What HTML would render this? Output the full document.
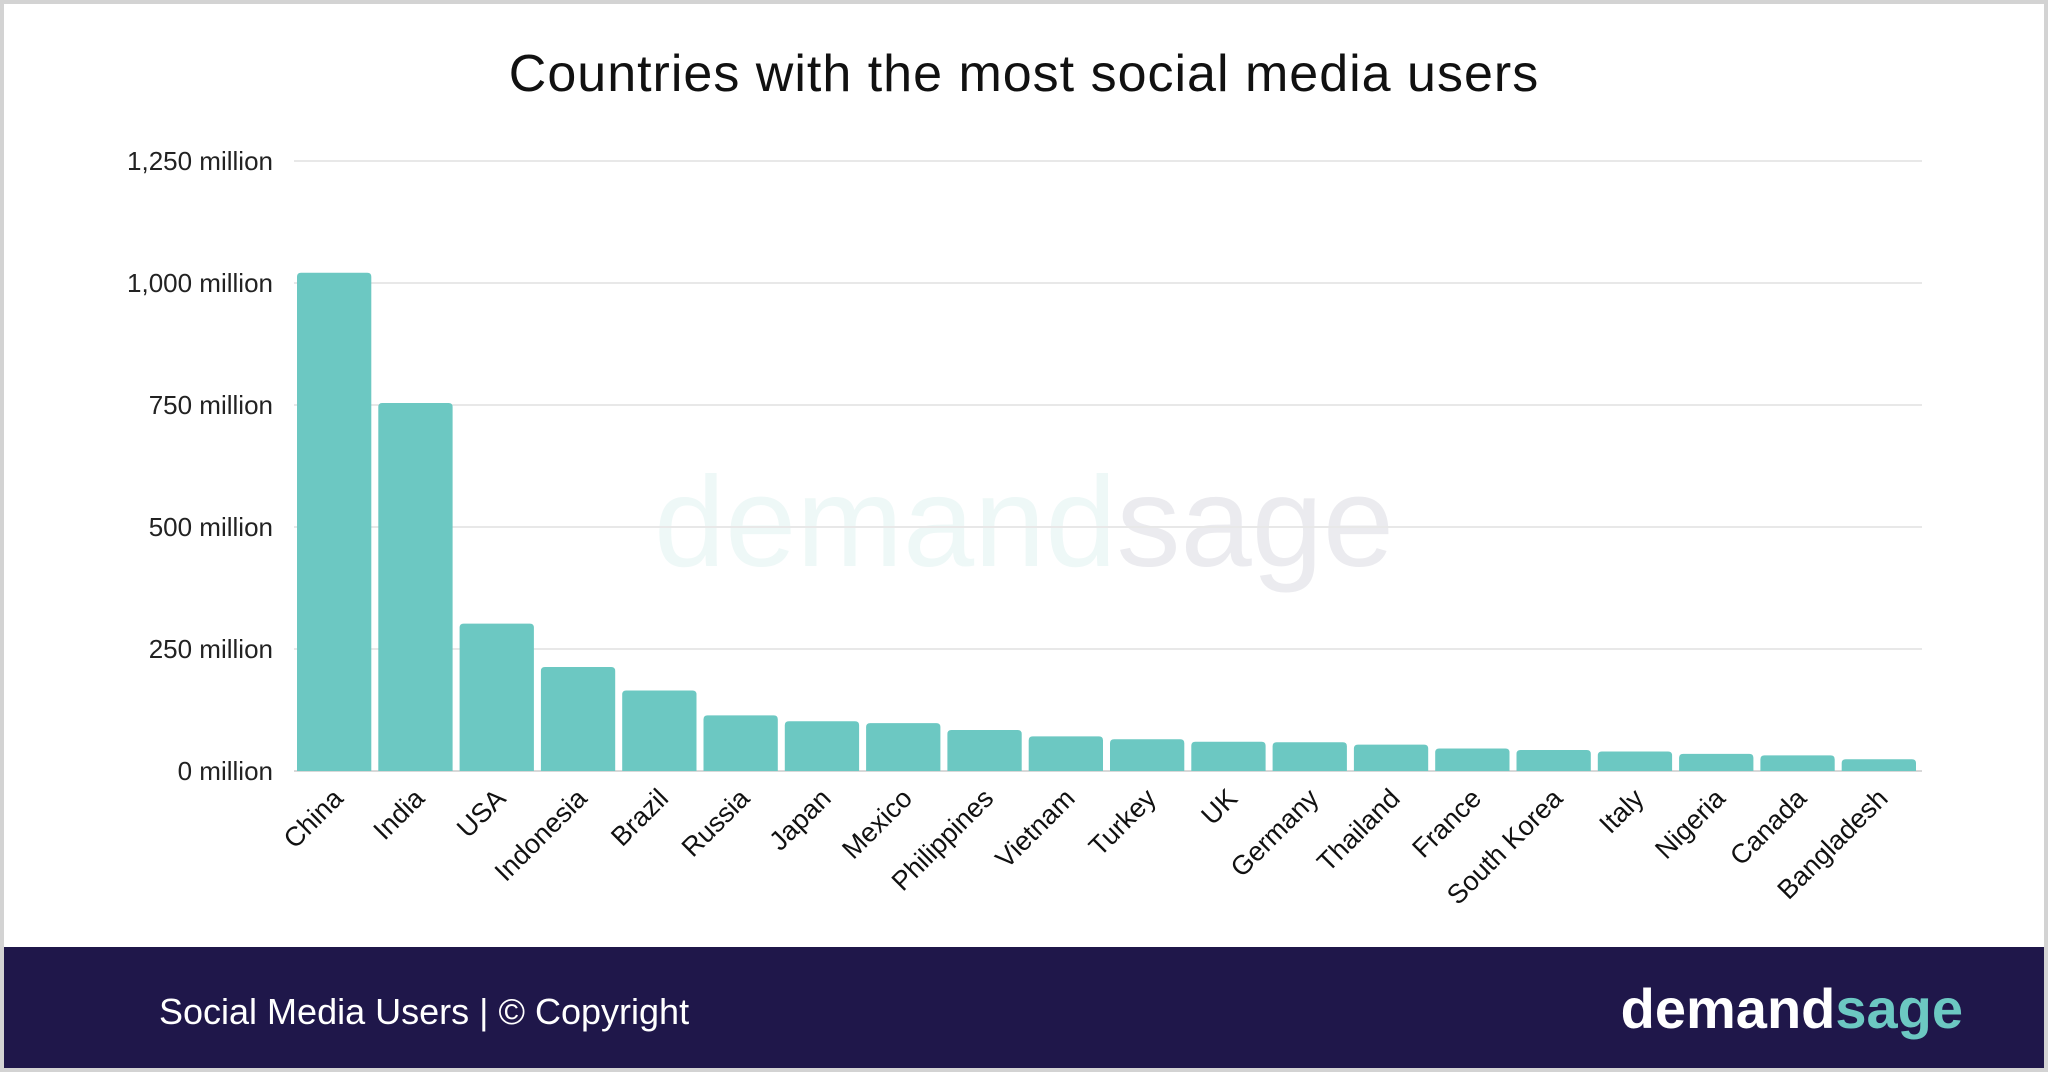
<!DOCTYPE html>
<html><head><meta charset="utf-8"><style>
html,body{margin:0;padding:0;background:#fff}
body{width:2048px;height:1072px;overflow:hidden;font-family:"Liberation Sans",sans-serif}
</style></head><body>
<svg width="2048" height="1072" viewBox="0 0 2048 1072">
<rect x="0" y="0" width="2048" height="1072" fill="#d3d3d3"/>
<rect x="4" y="4" width="2040" height="943" fill="#ffffff"/>
<rect x="4" y="947" width="2040" height="121" fill="#1f174a"/>
<text x="1024" y="91" text-anchor="middle" font-size="52" fill="#111" letter-spacing="1">Countries with the most social media users</text>
<text x="1024" y="566" text-anchor="middle" font-size="128"><tspan fill="#eef8f7">demand</tspan><tspan fill="#ebebef">sage</tspan></text>
<g id="grid"></g>
<g id="bars"></g>
<g id="xlabels"></g>
<text x="159" y="1024" font-size="36" fill="#ffffff">Social Media Users | © Copyright</text>
<text x="1963" y="1028" text-anchor="end" font-size="56" font-weight="600"><tspan fill="#ffffff">demand</tspan><tspan fill="#6cc8c2">sage</tspan></text>
</svg>
<script>
const categories=["China","India","USA","Indonesia","Brazil","Russia","Japan","Mexico","Philippines","Vietnam","Turkey","UK","Germany","Thailand","France","South Korea","Italy","Nigeria","Canada","Bangladesh"];
const values=[1021,754,302,213,165,114,102,98,84,71,65,60,59,54,46,43,40,35,32,24];
const ticks=[0,250,500,750,1000,1250];
const tickLabels=["0 million","250 million","500 million","750 million","1,000 million","1,250 million"];
const NS="http://www.w3.org/2000/svg";
const X0=296,X1=1922,Y0=771,Y1=161,YMAX=1250;
const band=(X1-X0)/categories.length;
function y(v){return Y0-(v/YMAX)*(Y0-Y1);}
function x(i){return X0+i*band;}
const grid=document.getElementById('grid');
ticks.forEach((t,i)=>{
  const l=document.createElementNS(NS,'line');
  l.setAttribute('x1',X0-2);l.setAttribute('x2',X1);l.setAttribute('y1',y(t));l.setAttribute('y2',y(t));
  l.setAttribute('stroke',t===0?'#d8d8d8':'#e8e8e8');l.setAttribute('stroke-width','2');
  
  
  grid.appendChild(l);
  const tx=document.createElementNS(NS,'text');
  tx.setAttribute('x',273);tx.setAttribute('y',y(t)+9);tx.setAttribute('text-anchor','end');
  tx.setAttribute('font-size','26');tx.setAttribute('fill','#222');
  tx.textContent=tickLabels[i];
  
  
  grid.appendChild(tx);
});
const bars=document.getElementById('bars'),xl=document.getElementById('xlabels');
categories.forEach((c,i)=>{
  const w=band-7;
  const r=document.createElementNS(NS,'path');
  const bx=x(i)+1,by=y(values[i]),rr=4;
  r.setAttribute('d',`M${bx},${Y0}V${by+rr}Q${bx},${by} ${bx+rr},${by}H${bx+w-rr}Q${bx+w},${by} ${bx+w},${by+rr}V${Y0}Z`);
  r.setAttribute('fill','#6cc8c2');
  
  
  bars.appendChild(r);
  const t=document.createElementNS(NS,'text');
  const cx=x(i)+band/2+8,cy=800;
  t.setAttribute('x',cx);t.setAttribute('y',cy);t.setAttribute('text-anchor','end');
  t.setAttribute('font-size','27');t.setAttribute('fill','#111');
  t.setAttribute('transform',`rotate(-45 ${cx} ${cy})`);
  t.textContent=c;
  
  
  xl.appendChild(t);
});
</script>
</body></html>
